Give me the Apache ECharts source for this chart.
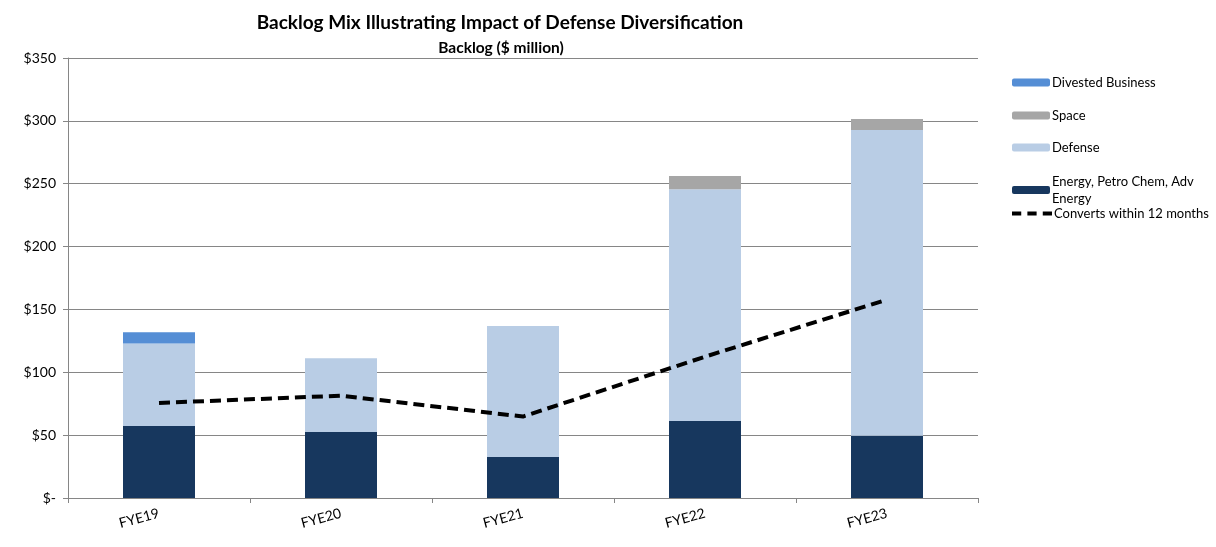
<!DOCTYPE html>
<html><head><meta charset="utf-8">
<script src="https://cdn.jsdelivr.net/npm/echarts@6/dist/echarts.min.js"></script>
<style>html,body{margin:0;padding:0;background:#fff}#c{width:1216px;height:547px}</style>
</head><body><div id="c"></div>
<script>
const categories = ['FYE19', 'FYE20', 'FYE21', 'FYE22', 'FYE23'];
const energy = [57.3, 52.5, 32.6, 61.3, 49.5];
const defense = [65.6, 58.7, 104.2, 184.2, 243.2];
const space = [0, 0, 0, 10.7, 8.8];
const divested = [8.9, 0, 0, 0, 0];
const converts = [75.6, 81.4, 64.8, 112.4, 157.8];
const yTicks = [0, 50, 100, 150, 200, 250, 300, 350];

const FONT = 'Lato';
const chart = echarts.init(document.getElementById('c'));
function leg(name, top, extra) {
  return Object.assign({
    data: [name], orient: 'vertical', left: 1012, top: top,
    itemWidth: 38, itemHeight: 8, padding: 0, itemGap: 0,
    textStyle: { fontFamily: FONT, fontSize: 13, color: '#000', padding: [0, 0, 0, -3] }
  }, extra || {});
}
chart.setOption({
  animation: false,
  title: [
    { text: 'Backlog Mix Illustrating Impact of Defense Diversification', left: 495, top: 8, textAlign: 'center',
      textStyle: { fontFamily: FONT, fontSize: 19, fontWeight: 'bold', color: '#000' } },
    { text: 'Backlog ($ million)', left: 496, top: 35, textAlign: 'center',
      textStyle: { fontFamily: FONT, fontSize: 15.5, fontWeight: 'bold', color: '#000' } }
  ],
  legend: [
    leg('Divested Business', 76),
    leg('Space', 109),
    leg('Defense', 141),
    leg('Energy, Petro Chem, Adv Energy', 164, {
      textStyle: { fontFamily: FONT, fontSize: 13, color: '#000', width: 150, overflow: 'break', lineHeight: 17, padding: [18, 0, 0, -3] }
    }),
    leg('Converts within 12 months', 207, {
      itemWidth: 40, itemHeight: 5,
      icon: 'path://M0,0H9V4H0Z M15,0H24V4H15Z M30,0H39V4H30Z'
    })
  ],
  grid: { left: 68, right: 238, top: 58, bottom: 49 },
  xAxis: {
    type: 'category', data: categories,
    axisLine: { lineStyle: { color: '#868686' } },
    axisTick: { show: true, length: 5, lineStyle: { color: '#868686' } },
    axisLabel: { fontFamily: FONT, fontSize: 14, color: '#000', rotate: 15, margin: 15 }
  },
  yAxis: {
    type: 'value', min: 0, max: 350, interval: 50,
    axisLine: { show: true, lineStyle: { color: '#868686' } },
    axisTick: { show: true, length: 5, lineStyle: { color: '#868686' } },
    splitLine: { lineStyle: { color: '#868686', width: 1 } },
    axisLabel: { fontFamily: FONT, fontSize: 14, color: '#000', margin: 12,
      formatter: v => yTicks.includes(v) ? (v === 0 ? '$-' : '$' + v) : '' }
  },
  series: [
    { name: 'Energy, Petro Chem, Adv Energy', type: 'bar', stack: 'a', data: energy, barWidth: 72, itemStyle: { color: '#17375E' } },
    { name: 'Defense', type: 'bar', stack: 'a', data: defense, barWidth: 72, itemStyle: { color: '#B9CDE5' } },
    { name: 'Space', type: 'bar', stack: 'a', data: space, barWidth: 72, itemStyle: { color: '#A6A6A6' } },
    { name: 'Divested Business', type: 'bar', stack: 'a', data: divested, barWidth: 72, itemStyle: { color: '#558ED5' } },
    { name: 'Converts within 12 months', type: 'line', data: converts, symbol: 'none', z: 5,
      lineStyle: { color: '#000', width: 4, type: [11, 6] }, itemStyle: { color: '#000' } }
  ]
});
</script></body></html>
